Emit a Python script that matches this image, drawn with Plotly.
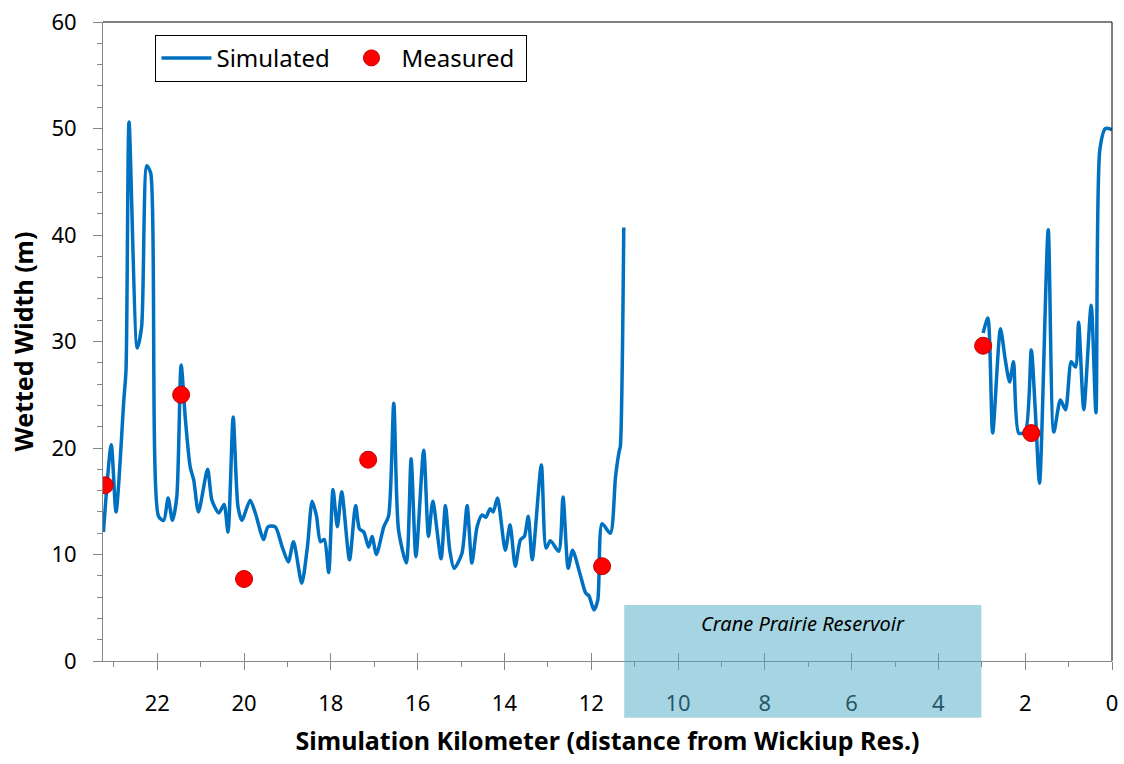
import plotly.graph_objects as go

# Simulated wetted width along the river, upstream reach (km from Wickiup Res.)
sim_up_km = [23.24, 23.06, 22.95, 22.77, 22.72, 22.65, 22.46, 22.36, 22.24, 22.15,
             21.97, 21.85, 21.75, 21.65, 21.55, 21.45, 21.35, 21.24, 21.16, 21.05,
             20.84, 20.74, 20.58, 20.46, 20.37, 20.25, 20.14, 20.05, 19.86, 19.74,
             19.55, 19.45, 19.28, 19.12, 18.98, 18.86, 18.67, 18.54, 18.43, 18.33,
             18.24, 18.15, 18.05, 17.95, 17.85, 17.75, 17.57, 17.43, 17.34, 17.24,
             17.13, 17.05, 16.95, 16.78, 16.67, 16.55, 16.44, 16.26, 16.15, 16.04,
             15.86, 15.75, 15.65, 15.46, 15.36, 15.26, 15.16, 14.98, 14.86, 14.75,
             14.63, 14.52, 14.43, 14.33, 14.26, 14.16, 13.98, 13.87, 13.75, 13.63,
             13.54, 13.45, 13.36, 13.15, 13.04, 12.94, 12.75, 12.65, 12.53, 12.43,
             12.26, 12.13, 12.05, 11.94, 11.85, 11.75, 11.56, 11.44, 11.35, 11.33,
             11.25]
sim_up_width = [12.1, 20.3, 14.0, 24.5, 27.3, 50.6, 29.4, 31.4, 46.5, 45.8,
                13.6, 13.2, 15.3, 13.2, 15.4, 27.8, 22.6, 18.2, 17.0, 14.0,
                18.0, 15.1, 13.9, 14.7, 12.1, 22.9, 14.5, 13.2, 15.1, 13.9,
                11.4, 12.6, 12.6, 10.7, 9.3, 11.2, 7.3, 10.7, 15.0, 13.6,
                11.2, 11.4, 8.3, 16.1, 12.6, 15.9, 9.5, 14.6, 12.4, 12.1,
                10.7, 11.7, 10.0, 12.6, 13.6, 24.2, 12.3, 9.2, 19.0, 9.8,
                19.8, 11.7, 15.0, 9.6, 14.6, 10.4, 8.7, 10.1, 14.6, 9.2,
                12.6, 13.7, 13.5, 14.3, 14.0, 15.3, 10.4, 12.8, 8.9, 11.4,
                11.7, 13.6, 9.5, 18.4, 10.6, 11.3, 10.3, 15.4, 8.7, 10.4,
                8.2, 6.4, 6.1, 4.8, 5.7, 12.9, 12.0, 17.3, 19.8, 20.1,
                40.7]

# Simulated wetted width, reach below Crane Prairie Reservoir
sim_down_km = [2.97, 2.86, 2.75, 2.57, 2.46, 2.36, 2.27, 2.15, 2.00, 1.86,
               1.77, 1.67, 1.47, 1.34, 1.19, 1.07, 0.94, 0.84, 0.77, 0.65,
               0.48, 0.37, 0.28, 0.15, 0.00]
sim_down_width = [30.8, 32.2, 21.4, 31.2, 28.3, 26.2, 28.1, 21.4, 21.5, 29.2,
                  23.7, 16.7, 40.5, 21.5, 24.5, 23.6, 28.1, 27.6, 31.8, 23.6,
                  33.4, 23.3, 48.0, 50.0, 49.9]

# Field measurements
meas_km = [23.21, 21.45, 20.00, 17.14, 11.75, 2.97, 1.86]
meas_width = [16.5, 25.0, 7.7, 18.9, 8.9, 29.6, 21.4]

# Reservoir extent (km)
reservoir_km = [11.24, 3.01]
reservoir_label = "Crane Prairie Reservoir"

x_range = [23.25, 0]
y_range = [0, 60]

FONT = "Noto Sans"
BLUE = "#0070C0"
AXIS_GREY = "#868686"

sim_km = sim_up_km + [None] + sim_down_km
sim_width = sim_up_width + [None] + sim_down_width

fig = go.Figure()

fig.add_trace(go.Scatter(
    x=sim_km, y=sim_width, mode="lines", name="Simulated",
    line=dict(color=BLUE, width=3.5, shape="spline", smoothing=0.7),
    connectgaps=False,
))
fig.add_trace(go.Scatter(
    x=meas_km, y=meas_width, mode="markers", name="Measured",
    marker=dict(color="#FF0000", size=17, line=dict(color="#C00000", width=1)),
))

# second x axis carrying the inward half of the major ticks
fig.add_trace(go.Scatter(x=[None], y=[None], xaxis="x2", showlegend=False,
                         hoverinfo="skip"))

fig.update_layout(
    width=1124, height=764,
    margin=dict(l=103, r=12, t=22, b=103),
    paper_bgcolor="white", plot_bgcolor="white",
    font=dict(family=FONT, size=22, color="black"),
    showlegend=True,
    legend=dict(
        orientation="h", x=0.052, y=0.98, xanchor="left", yanchor="top",
        bordercolor="black", borderwidth=1, bgcolor="white",
        font=dict(family=FONT, size=24, color="black"),
        itemwidth=50, entrywidth=120,
    ),
    xaxis=dict(
        range=x_range, tick0=0, dtick=2,
        showgrid=False, zeroline=False,
        showline=True, linecolor=AXIS_GREY, linewidth=1,
        ticks="outside", ticklen=8, tickcolor=AXIS_GREY, tickwidth=1,
        minor=dict(dtick=1, ticks="outside", ticklen=5, tickcolor=AXIS_GREY,
                   showgrid=False),
        ticklabelstandoff=15,
        tickfont=dict(family=FONT, size=22, color="black"),
        title=dict(text="Simulation Kilometer (distance from Wickiup Res.)",
                   font=dict(family=FONT, size=25, color="black", weight="bold"),
                   standoff=16),
        automargin=False,
    ),
    xaxis2=dict(
        range=x_range, overlaying="x", side="bottom", tick0=0, dtick=2,
        showgrid=False, zeroline=False, showline=False,
        ticks="inside", ticklen=8, tickcolor=AXIS_GREY, tickwidth=1,
        showticklabels=False, automargin=False,
    ),
    yaxis=dict(
        range=y_range, tick0=0, dtick=10,
        showgrid=False, zeroline=False,
        showline=True, linecolor=AXIS_GREY, linewidth=1,
        ticks="outside", ticklen=9, tickcolor=AXIS_GREY, tickwidth=1,
        minor=dict(dtick=2, ticks="outside", ticklen=5, tickcolor=AXIS_GREY,
                   showgrid=False),
        ticklabelstandoff=12,
        tickfont=dict(family=FONT, size=22, color="black"),
        title=dict(text="Wetted Width (m)",
                   font=dict(family=FONT, size=25, color="black", weight="bold"),
                   standoff=10),
        automargin=False,
    ),
)

# black frame on the top and right edges of the plot area
fig.add_shape(type="line", xref="paper", yref="paper", x0=0, x1=1, y0=1, y1=1,
              line=dict(color="black", width=1))
fig.add_shape(type="line", xref="paper", yref="paper", x0=1, x1=1, y0=0, y1=1,
              line=dict(color="black", width=1))

# translucent reservoir band laid over the axis
fig.add_shape(type="rect", xref="x", yref="paper",
              x0=reservoir_km[0], x1=reservoir_km[1], y0=-0.089, y1=0.0876,
              fillcolor="rgba(75,172,198,0.5)", line=dict(width=0), layer="above")
fig.add_annotation(
    x=sum(reservoir_km) / 2, y=0.058, xref="x", yref="paper",
    xanchor="center", yanchor="middle",
    text=reservoir_label, showarrow=False,
    font=dict(family=FONT, size=20, color="black", style="italic"),
)

fig.write_html("out.html")
